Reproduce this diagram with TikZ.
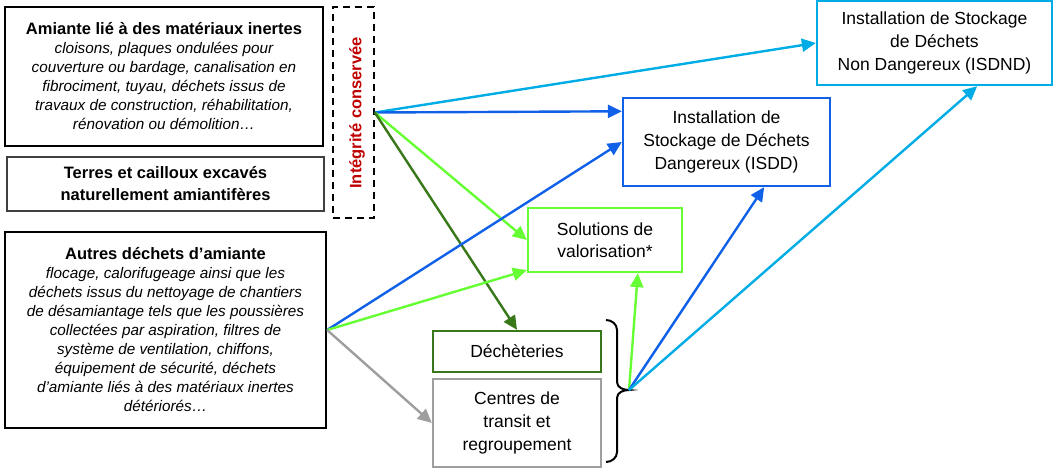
\documentclass[tikz,border=0pt]{standalone}
\usepackage{fontspec}
\setmainfont{Liberation Sans}
\usetikzlibrary{arrows.meta,calc}
\definecolor{lblue}{RGB}{0,172,230}
\definecolor{dblue}{RGB}{16,96,232}
\definecolor{lgreen}{RGB}{102,255,51}
\definecolor{dgreen}{RGB}{56,120,24}
\definecolor{mgray}{RGB}{158,158,158}
\definecolor{dred}{RGB}{192,0,0}
\begin{document}
\begin{tikzpicture}[x=1pt,y=-1pt,
  box/.style={draw, line width=2.3pt, inner sep=0pt, align=center},
  srcbox/.style={box, draw=black, font=\fontsize{15.3}{19}\selectfont\itshape},
  dstbox/.style={box, font=\fontsize{17.5}{23}\selectfont},
  arr/.style={line width=2.4pt, -{Triangle[length=14pt,width=13pt]}}
]
\useasboundingbox (0,0) rectangle (1054,468);

% source boxes
\node[srcbox, minimum width=318, minimum height=139] (amiante) at (164,76.5)
 {{\fontsize{16.5}{20}\selectfont\upshape\bfseries Amiante lié à des matériaux inertes}\\
  cloisons, plaques ondulées pour\\
  couverture ou bardage, canalisation en\\
  fibrociment, tuyau, déchets issus de\\
  travaux de construction, réhabilitation,\\
  rénovation ou démolition…};
\node[box, draw=black!75, line width=1.2pt, minimum width=317, minimum height=54,
  font=\fontsize{16.5}{22}\selectfont\bfseries] (terres) at (165.5,184)
 {Terres et cailloux excavés\\naturellement amiantifères};
\node[draw=black, line width=1.6pt, dash pattern=on 7pt off 5pt,
  minimum width=41, minimum height=211, inner sep=0pt] (dash) at (353.5,112.5) {};
\node[rotate=90, text=dred, font=\fontsize{16.5}{20}\selectfont\bfseries, inner sep=0pt]
  (integ) at (357,113) {Intégrité conservée};
\node[srcbox, minimum width=321, minimum height=196] (autres) at (165.5,330)
 {{\fontsize{16.5}{20}\selectfont\upshape\bfseries Autres déchets d’amiante}\\
  flocage, calorifugeage ainsi que les\\
  déchets issus du nettoyage de chantiers\\
  de désamiantage tels que les poussières\\
  collectées par aspiration, filtres de\\
  système de ventilation, chiffons,\\
  équipement de sécurité, déchets\\
  d’amiante liés à des matériaux inertes\\
  détériorés…};

% destination boxes
\node[dstbox, draw=lblue, minimum width=235, minimum height=84] (isdnd) at (934.5,43)
 {Installation de Stockage\\de Déchets\\Non Dangereux (ISDND)};
\node[dstbox, draw=dblue, minimum width=207, minimum height=88] (isdd) at (726.5,142)
 {Installation de\\Stockage de Déchets\\Dangereux (ISDD)};
\node[dstbox, draw=lgreen, minimum width=154, minimum height=64,
  font=\fontsize{17.5}{21.5}\selectfont] (sol) at (605,240)
 {Solutions de\\valorisation*};
\node[dstbox, draw=dgreen, minimum width=168, minimum height=41] (dech) at (517,351.5)
 {Déchèteries};
\node[dstbox, draw=mgray, minimum width=168, minimum height=88] (centres) at (517,423)
 {Centres de\\transit et\\regroupement};

% brace
\coordinate (C) at (629,390);
\draw[line width=2pt] (606,320) to[out=0,in=90] (617,330) -- (617,382)
  to[out=-90,in=180] (C) to[out=180,in=90] (617,398) -- (617,452)
  to[out=-90,in=0] (606,462);

% connectors
\coordinate (A) at (dash.east);
\coordinate (B) at (autres.east);
\draw[arr, lblue] (A) -- (isdnd.west);
\draw[arr, dblue] (A) -- ($(isdd.north west)!0.16!(isdd.south west)$);
\draw[arr, lgreen] (A) -- (sol.west);
\draw[arr, dgreen] (A) -- (dech.north);
\draw[arr, dblue] (B) -- (isdd.west);
\draw[arr, lgreen] (B) -- ($(sol.south west)+(0,-3)$);
\draw[arr, mgray] (B) -- (centres.west);
\draw[arr, lgreen] (C) -- ($(sol.south west)!0.71!(sol.south east)$);
\draw[arr, dblue] (C) -- ($(isdd.south west)!0.68!(isdd.south east)$);
\draw[arr, lblue] (C) -- ($(isdnd.south west)!0.68!(isdnd.south east)$);
\end{tikzpicture}
\end{document}
